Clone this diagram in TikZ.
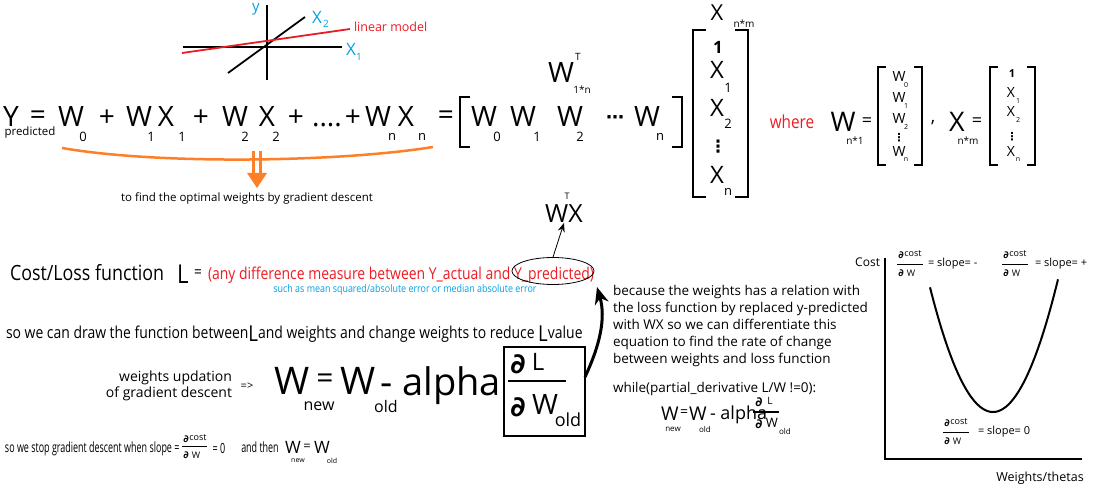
\documentclass[tikz,border=0pt]{standalone}
\usepackage{fontspec}
\setmainfont{Open Sans}[FakeStretch=0.85]
\newfontfamily\osw{Open Sans}
\newfontfamily\cond{Open Sans}[FakeStretch=0.64]
\newfontfamily\djsans{DejaVu Sans}
\usetikzlibrary{arrows.meta,shapes.geometric}
\newcommand\fs[1]{\fontsize{#1}{#1}\selectfont}
\newcommand\bigL{\raisebox{-3pt}{\fs{22}L}}
\definecolor{pred}{HTML}{ED1C24}
\definecolor{pblue}{HTML}{00A2E8}
\definecolor{porange}{HTML}{FF7F27}
\tikzset{
  tx/.style={inner sep=0pt, outer sep=0pt},
  eq/.style={tx, font=\osw\fs{28}},
  sb/.style={tx, font=\osw\fs{13}},
  ax/.style={line width=1.8pt},
  brk/.style={line width=2pt},
  mi/.style={tx, font=\osw\fs{14}},
  ms/.style={tx, font=\osw\fs{7}},
  pdsym/.style={tx, font=\djsans\bfseries\fs{10}},
  frtxt/.style={tx, font=\osw\fs{9}},
  slopetxt/.style={tx, font=\osw\fs{11}, anchor=west},
  rtext/.style={tx, font=\osw\fs{13.5}, anchor=base west},
  stoptxt/.style={tx, font=\cond\fs{14}},
}
\begin{document}
\begin{tikzpicture}[x=1pt,y=-1pt]
\useasboundingbox (0,0) rectangle (1096,492);
\fill[white] (0,0) rectangle (1096,492);
% ---------- top axes ----------
\draw[ax] (267,5) -- (267,80);
\draw[ax] (183,47) -- (342,47);
\draw[ax] (228,73) -- (305,17);
\draw[ax, pred] (182,53) -- (350,29);
\node[tx, font=\osw\fs{15}, text=pblue] (ly) at (256,9) {y};
\node[tx, font=\osw\fs{17}, text=pblue] (lx2) at (317,17) {X};
\node[tx, font=\osw\fs{10}, text=pblue] (lx2s) at (326,24) {2};
\node[tx, font=\osw\fs{17}, text=pblue] (lx1) at (351,49) {X};
\node[tx, font=\osw\fs{10}, text=pblue] (lx1s) at (359,57) {1};
\node[tx, font=\osw\fs{12.5}, text=pred, anchor=west] (lm) at (354,27) {linear model};
% ---------- main equation ----------
\node[eq] (Y) at (11,117) {Y};
\node[tx, font=\osw\fs{11.5}] (ypred) at (30,133) {predicted};
\node[eq] (e1) at (38,118) {=};
\node[eq] (w0) at (71,117) {W};   \node[sb] (w0s) at (83,137) {0};
\node[eq] (p1) at (107,118) {+};
\node[eq] (w1) at (139,117) {W};  \node[sb] (w1s) at (151,137) {1};
\node[eq] (x1) at (166,117) {X};  \node[sb] (x1s) at (182,137) {1};
\node[eq] (p2) at (201,118) {+};
\node[eq] (w2) at (235,117) {W};  \node[sb] (w2s) at (245,137) {2};
\node[eq] (x2) at (267,117) {X};  \node[sb] (x2s) at (276,137) {2};
\node[eq] (p3) at (296,118) {+};
\node[eq, anchor=base] (dots) at (327,127) {....};
\node[eq] (p4) at (353,118) {+};
\node[eq] (wn) at (378,117) {W};  \node[sb] (wns) at (392,137) {n};
\node[eq] (xn) at (406,117) {X};  \node[sb] (xns) at (422,137) {n};
\node[eq] (e2) at (446,118) {=};
\draw[brk] (470,97) -- (460,97) -- (460,147) -- (470,147);
\node[eq] (v0) at (484,117) {W};  \node[sb] (v0s) at (497,137) {0};
\node[eq] (v1) at (523,117) {W};  \node[sb] (v1s) at (537,137) {1};
\node[eq] (v2) at (570,117) {W};  \node[sb] (v2s) at (580,137) {2};
\node[tx, font=\djsans\bfseries\fs{18}] (vd) at (615,120) {⋯};
\node[eq] (vn) at (647,117) {W};  \node[sb] (vns) at (660,137) {n};
\draw[brk] (672,97) -- (682,97) -- (682,147) -- (672,147);
\node[eq] (wt) at (561,73) {W};
\node[tx, font=\osw\fs{10}] (wtT) at (578,57) {T};
\node[tx, font=\osw\fs{10}] (wt1n) at (582,90) {1*n};
% X column vector
\node[tx, font=\osw\fs{22}] (xm) at (717,13) {X};
\node[tx, font=\osw\fs{10}] (xms) at (744,24) {n*m};
\draw[brk] (706,30) -- (693,30) -- (693,197) -- (706,197);
\draw[brk] (735,30) -- (748,30) -- (748,197) -- (735,197);
\node[tx, font=\osw\bfseries\fs{17}] (c1) at (718,47) {1};
\node[tx, font=\osw\fs{24}] (cx1) at (717,70) {X}; \node[sb] (cx1s) at (728,88) {1};
\node[tx, font=\osw\fs{24}] (cx2) at (717,108) {X}; \node[sb] (cx2s) at (728,124) {2};
\node[tx, font=\djsans\bfseries\fs{17}] (cvd) at (718,147) {⋮};
\node[tx, font=\osw\fs{24}] (cxn) at (717,175) {X}; \node[sb] (cxns) at (728,192) {n};
% where part
\node[tx, font=\fs{18}, text=pred] (where) at (792,122) {where};
\node[tx, font=\osw\fs{27}] (wW) at (843,122) {W};
\node[tx, font=\osw\fs{10}] (wWs) at (855,141) {n*1};
\node[tx, font=\osw\fs{18}] (we) at (867,122) {=};
\draw[brk] (886,67) -- (878,67) -- (878,165) -- (886,165);
\draw[brk] (914,67) -- (922,67) -- (922,165) -- (914,165);
\node[mi] (ww0) at (899,77) {W}; \node[ms] (ww0s) at (906,85) {0};
\node[mi] (ww1) at (899,98) {W}; \node[ms] (ww1s) at (906,106) {1};
\node[mi] (ww2) at (899,119) {W}; \node[ms] (ww2s) at (906,127) {2};
\node[tx, font=\djsans\bfseries\fs{11}] (wwd) at (899,138) {⋮};
\node[mi] (wwn) at (899,152) {W}; \node[ms] (wwns) at (906,160) {n};
\node[tx, font=\osw\fs{18}] (comma) at (933,123) {,};
\node[tx, font=\osw\fs{27}] (xX) at (957,122) {X};
\node[tx, font=\osw\fs{10}] (xXs) at (968,141) {n*m};
\node[tx, font=\osw\fs{18}] (xe) at (977,122) {=};
\draw[brk] (998,67) -- (990,67) -- (990,165) -- (998,165);
\draw[brk] (1027,67) -- (1035,67) -- (1035,165) -- (1027,165);
\node[tx, font=\osw\bfseries\fs{11}] (xx0) at (1012,74) {1};
\node[mi] (xx1) at (1011,93) {X}; \node[ms] (xx1s) at (1018,101) {1};
\node[mi] (xx2) at (1011,112) {X}; \node[ms] (xx2s) at (1018,120) {2};
\node[tx, font=\djsans\bfseries\fs{11}] (xxd) at (1012,137) {⋮};
\node[mi] (xxn) at (1011,152) {X}; \node[ms] (xxns) at (1018,160) {n};
% orange brace + arrow
\draw[porange, line width=2.5pt] (62,148) .. controls (160,165) and (340,162) .. (433,147);
\draw[porange, line width=2.2pt] (253.5,151) -- (253.5,175) (260.5,151) -- (260.5,175);
\fill[porange] (247,173) -- (267,173) -- (257,188) -- cycle;
\node[tx, font=\osw\fs{11.5}] (find) at (247,198) {to find the optimal weights by gradient descent};
% ---------- cost function ----------
\node[tx, font=\osw\fs{25}] (wx) at (564,214) {WX};
\node[tx, font=\osw\fs{9}] (wxT) at (567,196) {T};
\node[tx, font=\fs{21}, anchor=base west] (cost) at (10,280) {Cost/Loss function};
\node[tx, font=\fs{26}, anchor=base west] (Lc) at (177,283) {L};
\node[tx, font=\fs{16}] (ce) at (198,274) {=};
\node[tx, font=\fs{16.4}, text=pred, anchor=base west] (anydiff) at (208,279) {(any difference measure between Y\_actual and Y\_predicted)};
\node[draw, line width=0.8pt, ellipse, minimum width=82, minimum height=27, inner sep=0pt] (ell) at (553,271) {};
\draw[line width=0.8pt, -{Stealth[length=9pt,width=7pt]}] (ell.north) -- (wx.south);
\node[tx, font=\fs{10.5}, text=pblue] (such) at (405,290) {such as mean squared/absolute error or median absolute error};
\node[tx, font=\fs{16.4}, anchor=base west] (drawline) at (6,338) {so we can draw the function between\bigL and weights and change weights to reduce \bigL value};
% weights update
\node[tx, font=\osw\fs{14}, anchor=base east] (wu1) at (232,381) {weights updation};
\node[tx, font=\osw\fs{14}, anchor=base east] (wu2) at (232,397) {of gradient descent};
\node[tx, font=\osw\fs{11}] (arr) at (247,386) {=>};
\node[tx, font=\osw\fs{38}] (uw1) at (292,381) {W};
\node[tx, font=\osw\fs{16}] (uw1s) at (319,406) {new};
\node[tx, font=\osw\fs{30}] (ue) at (325,381) {=};
\node[tx, font=\osw\fs{38}] (uw2) at (358,381) {W};
\node[tx, font=\osw\fs{16}] (uw2s) at (386,406) {old};
\node[tx, font=\osw\fs{38}, anchor=base east] (alpha) at (501,395) {- alpha};
\node[draw, line width=2.5pt, minimum width=81, minimum height=89, inner sep=0pt] (dbox) at (544.5,391.5) {};
\node[tx, font=\djsans\bfseries\fs{28}] (bd1) at (518,364) {∂};
\node[tx, font=\osw\fs{24}] (bL) at (538,362) {L};
\draw[line width=2.5pt] (508,381) -- (566,381);
\node[tx, font=\djsans\bfseries\fs{28}] (bd2) at (518,407) {∂};
\node[tx, font=\osw\fs{28}] (bW) at (545,405) {W};
\node[tx, font=\osw\fs{18}] (bold) at (568,420) {old};
\coordinate (cs) at (585,377);
\coordinate (ct) at (597,287);
\draw[line width=3pt, -{Stealth[length=17pt,width=14pt]}] (cs) .. controls (600,345) and (606,318) .. (ct);
% stop line
\node[stoptxt, anchor=base west] (stop) at (5,452) {so we stop gradient descent when slope =};
\node[pdsym] (sd1) at (186,439) {∂};
\node[frtxt] (scost) at (198,438) {cost};
\draw[line width=1pt] (182,446) -- (207,446);
\node[pdsym] (sd2) at (186,455) {∂};
\node[frtxt] (sw) at (196,455) {W};
\node[stoptxt] (s0) at (219,448) {= 0};
\node[stoptxt] (sthen) at (260,447) {and then};
\node[tx, font=\osw\fs{17}] (sW1) at (293,447) {W};
\node[tx, font=\osw\fs{7}] (sW1s) at (298,461) {new};
\node[tx, font=\osw\fs{13}] (se) at (307,447) {=};
\node[tx, font=\osw\fs{17}] (sW2) at (322,447) {W};
\node[tx, font=\osw\fs{7}] (sW2s) at (332,461) {old};
% ---------- right text ----------
\node[rtext] (b1) at (613,295) {because the weights has a relation with};
\node[rtext] (b2) at (613,312) {the loss function by replaced y-predicted};
\node[rtext] (b3) at (613,329) {with WX so we can differentiate this};
\node[rtext] (b4) at (613,346) {equation to find the rate of change};
\node[rtext] (b5) at (613,363) {between weights and loss function};
\node[rtext] (wh) at (613,392) {while(partial\_derivative L/W !=0):};
\node[tx, font=\osw\fs{19}] (rw1) at (670,414) {W};
\node[tx, font=\osw\fs{8}] (rw1s) at (673,429) {new};
\node[tx, font=\osw\fs{14}] (re) at (684,413) {=};
\node[tx, font=\osw\fs{19}] (rw2) at (698,414) {W};
\node[tx, font=\osw\fs{8}] (rw2s) at (705,429) {old};
\node[tx, font=\osw\fs{18}, anchor=base west] (ralpha) at (710,419) {- alpha};
\node[tx, font=\djsans\bfseries\fs{13}] (rd1) at (759,402) {∂};
\node[tx, font=\osw\fs{10}] (rL) at (770,401) {L};
\draw[line width=1.2pt] (753,412) -- (779,412);
\node[tx, font=\djsans\bfseries\fs{13}] (rd2) at (759,424) {∂};
\node[tx, font=\osw\fs{13}] (rW) at (772,423) {W};
\node[tx, font=\osw\fs{8}] (rold) at (785,431) {old};
% ---------- graph ----------
\draw[line width=2.5pt] (885,258) -- (885,459) -- (1082,459);
\draw[line width=2pt] plot[domain=-63:65, samples=80, smooth] ({993+\x},{412-0.0314*\x*\x});
\node[tx, font=\osw\fs{12}, anchor=base east] (gcost) at (880,266) {Cost};
\node[tx, font=\osw\fs{12.5}] (gw) at (1040,478) {Weights/thetas};
% fractions
\node[pdsym] (f1a) at (901,255) {∂};
\node[frtxt] (f1b) at (913,254) {cost};
\draw[line width=0.8pt] (897,264) -- (923,264);
\node[pdsym] (f1c) at (901,273) {∂};
\node[frtxt] (f1d) at (911,273) {W};
\node[slopetxt] (f1e) at (928,264) {= slope= -};
\node[pdsym] (f2a) at (1006,255) {∂};
\node[frtxt] (f2b) at (1018,254) {cost};
\draw[line width=0.8pt] (1002,264) -- (1028,264);
\node[pdsym] (f2c) at (1006,273) {∂};
\node[frtxt] (f2d) at (1016,273) {W};
\node[slopetxt] (f2e) at (1035,264) {= slope= +};
\node[pdsym] (f3a) at (947,423) {∂};
\node[frtxt] (f3b) at (959,422) {cost};
\draw[line width=0.8pt] (943,432) -- (969,432);
\node[pdsym] (f3c) at (947,441) {∂};
\node[frtxt] (f3d) at (957,441) {W};
\node[slopetxt] (f3e) at (978,432) {= slope= 0};
\end{tikzpicture}
\end{document}
